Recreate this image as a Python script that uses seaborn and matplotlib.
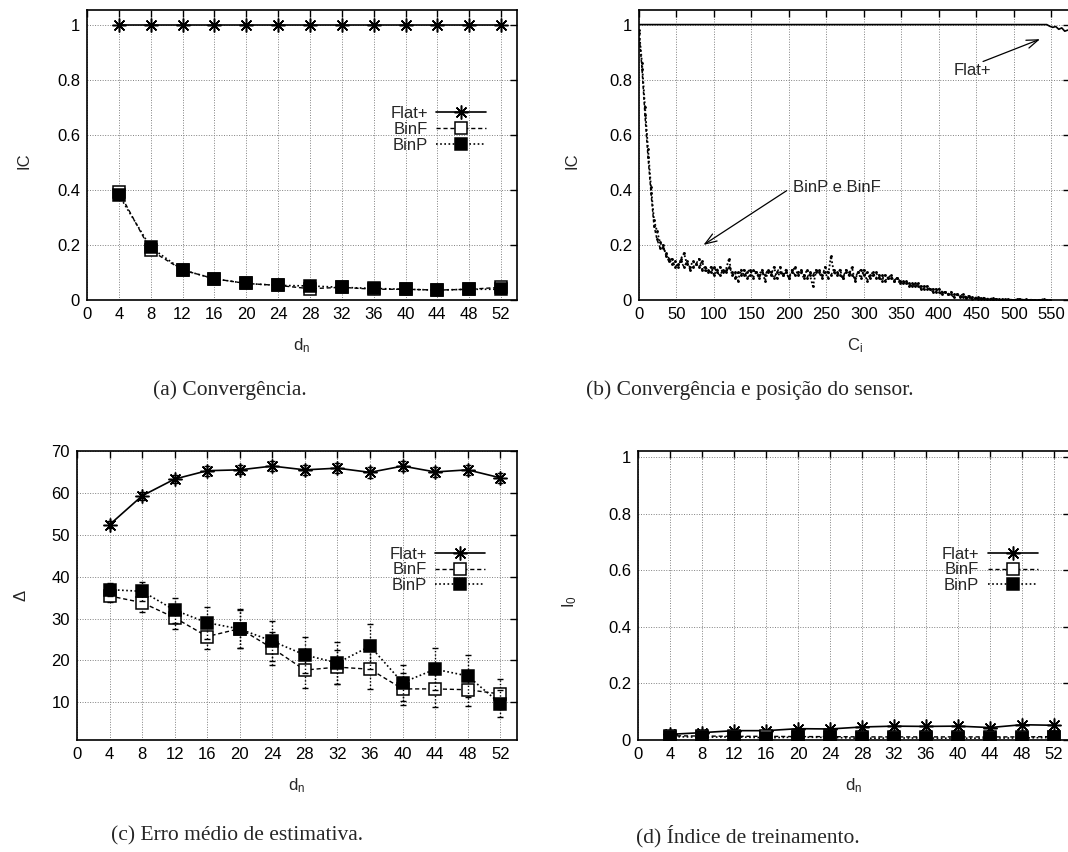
import numpy as np
import pandas as pd
import matplotlib
matplotlib.use("Agg")
import matplotlib.pyplot as plt
import seaborn as sns
from matplotlib.ticker import MultipleLocator, FormatStrFormatter

sns.set_theme(style="white")
plt.rcParams["font.family"] = ["Liberation Sans", "DejaVu Sans"]
plt.rcParams["mathtext.default"] = "regular"

# ---------------- data ----------------
dn = [4, 8, 12, 16, 20, 24, 28, 32, 36, 40, 44, 48, 52]

# (a) convergence index IC versus d_n
ic_flat = [1.0, 1.0, 1.0, 1.0, 1.0, 1.0, 1.0, 1.0, 1.0, 1.0, 1.0, 1.0, 1.0]
ic_binf = [0.393, 0.180, 0.109, 0.077, 0.060, 0.053, 0.041, 0.046, 0.039, 0.039, 0.036, 0.039, 0.046]
ic_binp = [0.381, 0.191, 0.109, 0.077, 0.060, 0.053, 0.051, 0.046, 0.042, 0.039, 0.036, 0.039, 0.039]

# (b) IC along the sensor positions C_i (sampled every 4 positions)
ci_step = 4
ci_binp = [0.98, 0.86, 0.70, 0.55, 0.41, 0.29, 0.25, 0.21, 0.19, 0.17, 0.15, 0.13, 0.14, 0.12,
           0.15, 0.17, 0.13, 0.12, 0.14, 0.13, 0.12, 0.14, 0.11, 0.10, 0.12, 0.09, 0.11, 0.12,
           0.10, 0.11, 0.15, 0.09, 0.10, 0.07, 0.11, 0.09, 0.10, 0.11, 0.08, 0.10, 0.09, 0.11,
           0.07, 0.10, 0.09, 0.12, 0.08, 0.10, 0.09, 0.11, 0.08, 0.10, 0.12, 0.09, 0.10, 0.08,
           0.11, 0.09, 0.05, 0.10, 0.11, 0.09, 0.10, 0.08, 0.16, 0.10, 0.09, 0.11, 0.08, 0.10,
           0.09, 0.12, 0.07, 0.10, 0.08, 0.11, 0.07, 0.09, 0.10, 0.08, 0.09, 0.07, 0.09, 0.08,
           0.08, 0.07, 0.08, 0.06, 0.07, 0.06, 0.06, 0.05, 0.06, 0.05, 0.05, 0.04, 0.05, 0.04,
           0.04, 0.03, 0.04, 0.03, 0.03, 0.02, 0.03, 0.02, 0.02, 0.015, 0.02, 0.01, 0.015, 0.01,
           0.008, 0.01, 0.006, 0.008, 0.005, 0.004, 0.006, 0.003, 0.002, 0.003, 0.001, 0.002,
           0.001, 0.0, 0.002, 0.004, 0.001, 0.0, 0.0, 0.001, 0.0, 0.0, 0.001, 0.003, 0.0, 0.0]
ci_binf = [0.97, 0.84, 0.67, 0.52, 0.39, 0.27, 0.22, 0.19, 0.20, 0.16, 0.14, 0.15, 0.12, 0.13,
           0.14, 0.12, 0.14, 0.11, 0.12, 0.13, 0.15, 0.11, 0.12, 0.11, 0.10, 0.12, 0.10, 0.09,
           0.11, 0.10, 0.12, 0.10, 0.08, 0.10, 0.09, 0.11, 0.08, 0.09, 0.11, 0.10, 0.08, 0.10,
           0.09, 0.11, 0.10, 0.08, 0.10, 0.12, 0.09, 0.10, 0.08, 0.11, 0.09, 0.10, 0.11, 0.09,
           0.08, 0.10, 0.09, 0.11, 0.10, 0.08, 0.12, 0.10, 0.09, 0.11, 0.10, 0.09, 0.08, 0.11,
           0.10, 0.09, 0.08, 0.10, 0.11, 0.09, 0.10, 0.08, 0.09, 0.10, 0.08, 0.09, 0.07, 0.08,
           0.09, 0.07, 0.08, 0.07, 0.06, 0.07, 0.05, 0.06, 0.05, 0.06, 0.04, 0.05, 0.04, 0.04,
           0.03, 0.04, 0.03, 0.02, 0.03, 0.02, 0.02, 0.01, 0.02, 0.01, 0.012, 0.008, 0.01, 0.005,
           0.008, 0.004, 0.005, 0.003, 0.002, 0.004, 0.001, 0.003, 0.001, 0.0, 0.002, 0.001,
           0.0, 0.0, 0.001, 0.0, 0.0, 0.002, 0.0, 0.0, 0.0, 0.001, 0.0, 0.0, 0.0, 0.0]
ci_flat_x = [0, 544, 548, 552, 556, 560, 564, 568, 572]
ci_flat = [1.0, 1.0, 0.994, 0.99, 0.993, 0.983, 0.988, 0.976, 0.98]

# (c) mean estimation error and its spread
err_flat = [52.4, 59.3, 63.3, 65.3, 65.5, 66.4, 65.5, 65.9, 64.9, 66.4, 65.0, 65.5, 63.6]
err_flat_sd = [0.8, 1.0, 1.0, 1.2, 1.1, 1.2, 1.2, 1.2, 1.3, 1.2, 1.2, 1.2, 1.2]
err_binf = [35.4, 33.8, 30.2, 25.7, 27.6, 22.9, 17.7, 18.4, 17.9, 13.2, 13.2, 13.0, 12.0]
err_binf_sd = [1.5, 2.2, 2.7, 3.0, 4.6, 4.0, 4.2, 4.1, 4.7, 3.8, 4.4, 3.9, 3.5]
err_binp = [36.9, 36.5, 32.0, 29.0, 27.5, 24.6, 21.3, 19.4, 23.4, 14.7, 17.9, 16.3, 9.7]
err_binp_sd = [1.6, 2.2, 3.0, 3.8, 4.5, 4.8, 4.2, 5.1, 5.4, 4.3, 5.0, 5.1, 3.3]

# (d) training index I_0
i0_flat = [0.020, 0.026, 0.033, 0.033, 0.040, 0.039, 0.046, 0.049, 0.048, 0.049, 0.044, 0.054, 0.052]
i0_binf = [0.015, 0.014, 0.013, 0.013, 0.012, 0.012, 0.011, 0.011, 0.011, 0.011, 0.011, 0.011, 0.012]
i0_binp = [0.012, 0.010, 0.011, 0.008, 0.010, 0.009, 0.006, 0.007, 0.007, 0.006, 0.007, 0.007, 0.009]

captions = ["(a) Convergência.", "(b) Convergência e posição do sensor.",
            "(c) Erro médio de estimativa.", "(d) Índice de treinamento."]

# ---------------- layout ----------------
W, H = 1068, 852
fig = plt.figure(figsize=(W / 100, H / 100), dpi=100)
fig.patch.set_facecolor("white")


def rect(l, r, t, b):
    return [l / W, 1 - b / H, (r - l) / W, (b - t) / H]


ax_a = fig.add_axes(rect(87, 517, 10, 300))
ax_b = fig.add_axes(rect(639, 1070, 10, 300))
ax_c = fig.add_axes(rect(77, 516.5, 451, 740))
ax_d = fig.add_axes(rect(638, 1070, 451, 740))

TICK_FS = 12
LEG_FS = 12
GRID = dict(color="#808080", linestyle=(0, (1, 1.6)), linewidth=0.7)


def frame(ax):
    ax.set_facecolor("white")
    for s in ax.spines.values():
        s.set_visible(True)
        s.set_color("black")
        s.set_linewidth(1.2)
    ax.tick_params(direction="in", length=5, width=1, top=True, right=True,
                   labelsize=TICK_FS, pad=5, colors="black")
    ax.grid(True, **GRID)
    ax.set_axisbelow(True)


def legend(ax, anchor):
    lg = ax.legend(loc="upper right", bbox_to_anchor=anchor, frameon=False,
                   markerfirst=False, handlelength=3.0, handletextpad=0.5,
                   labelspacing=0.05, borderpad=0, borderaxespad=0,
                   fontsize=LEG_FS, numpoints=1)
    return lg


star = (8, 2, 0)
flat_kw = dict(color="black", linestyle="-", linewidth=1.2, marker=star, markersize=10,
               markeredgecolor="black", markeredgewidth=1.1)
binf_kw = dict(color="black", linestyle=(0, (3, 2)), linewidth=1.0, marker="s", markersize=9,
               markerfacecolor="white", markeredgecolor="black", markeredgewidth=1.1)
binp_kw = dict(color="black", linestyle=(0, (1, 1.5)), linewidth=1.2, marker="s", markersize=9,
               markerfacecolor="black", markeredgecolor="black", markeredgewidth=1.1)

# ---------------- (a) ----------------
df_a = pd.DataFrame({"dn": dn, "Flat+": ic_flat, "BinF": ic_binf, "BinP": ic_binp})
sns.lineplot(data=df_a, x="dn", y="Flat+", ax=ax_a, label="Flat+", **flat_kw)
sns.lineplot(data=df_a, x="dn", y="BinF", ax=ax_a, label="BinF", **binf_kw)
sns.lineplot(data=df_a, x="dn", y="BinP", ax=ax_a, label="BinP", **binp_kw)
ax_a.set_xlim(0, 54)
ax_a.set_ylim(0, 1.053)
ax_a.yaxis.set_major_locator(MultipleLocator(0.2))
ax_a.xaxis.set_major_locator(MultipleLocator(4))
frame(ax_a)
legend(ax_a, (0.929, 0.668))

# ---------------- (b) ----------------
x_binp = np.arange(len(ci_binp)) * ci_step
x_binf = np.arange(len(ci_binf)) * ci_step
df_bp = pd.DataFrame({"ci": x_binp, "ic": ci_binp})
df_bf = pd.DataFrame({"ci": x_binf, "ic": ci_binf})
df_bflat = pd.DataFrame({"ci": ci_flat_x, "ic": ci_flat})
sns.lineplot(data=df_bflat, x="ci", y="ic", ax=ax_b, color="black", linewidth=1.2)
sns.lineplot(data=df_bf, x="ci", y="ic", ax=ax_b, color="black", linewidth=1.1,
             linestyle=(0, (2, 1.5)), marker=".", markersize=2.5, markeredgecolor="black")
sns.lineplot(data=df_bp, x="ci", y="ic", ax=ax_b, color="black", linewidth=1.3,
             linestyle=(0, (1, 1.2)), marker=".", markersize=2.5, markeredgecolor="black")
ax_b.set_xlim(0, 575)
ax_b.set_ylim(0, 1.053)
ax_b.yaxis.set_major_locator(MultipleLocator(0.2))
ax_b.xaxis.set_major_locator(MultipleLocator(50))
frame(ax_b)
arrow = dict(arrowstyle="->,head_length=0.7,head_width=0.25", color="black", lw=0.9,
             shrinkA=0, shrinkB=0)
ax_b.annotate("", xy=(535, 0.947), xytext=(459, 0.866), arrowprops=arrow)
ax_b.text(420, 0.832, "Flat+", fontsize=LEG_FS, va="center", ha="left")
ax_b.annotate("", xy=(86, 0.20), xytext=(197, 0.397), arrowprops=arrow)
ax_b.text(206, 0.407, "BinP e BinF", fontsize=LEG_FS, va="center", ha="left")

# ---------------- (c) ----------------
df_c = pd.DataFrame({"dn": dn, "Flat+": err_flat, "BinF": err_binf, "BinP": err_binp})
for col, sd, kw in [("Flat+", err_flat_sd, flat_kw), ("BinF", err_binf_sd, binf_kw),
                    ("BinP", err_binp_sd, binp_kw)]:
    eb = ax_c.errorbar(df_c["dn"], df_c[col], yerr=sd, fmt="none", ecolor="black",
                       elinewidth=1.0, capsize=2.5, capthick=1.0)
    if col != "Flat+":
        eb[2][0].set_linestyle((0, (1, 1.5)))
    sns.lineplot(data=df_c, x="dn", y=col, ax=ax_c, label=col, **kw)
ax_c.set_xlim(0, 54)
ax_c.set_ylim(1, 70)
ax_c.yaxis.set_major_locator(MultipleLocator(10))
ax_c.xaxis.set_major_locator(MultipleLocator(4))
frame(ax_c)
legend(ax_c, (0.929, 0.669))

# ---------------- (d) ----------------
df_d = pd.DataFrame({"dn": dn, "Flat+": i0_flat, "BinF": i0_binf, "BinP": i0_binp})
sns.lineplot(data=df_d, x="dn", y="Flat+", ax=ax_d, label="Flat+", **flat_kw)
sns.lineplot(data=df_d, x="dn", y="BinF", ax=ax_d, label="BinF", **binf_kw)
sns.lineplot(data=df_d, x="dn", y="BinP", ax=ax_d, label="BinP", **binp_kw)
ax_d.set_xlim(0, 54)
ax_d.set_ylim(0, 1.021)
ax_d.yaxis.set_major_locator(MultipleLocator(0.2))
ax_d.xaxis.set_major_locator(MultipleLocator(4))
frame(ax_d)
legend(ax_d, (0.925, 0.669))

# ---------------- labels ----------------
for ax in (ax_a, ax_b, ax_d):
    ax.yaxis.set_major_formatter(FormatStrFormatter("%g"))

ax_a.set_xlabel(r"$\mathregular{d_n}$", fontsize=TICK_FS)
ax_a.set_ylabel("IC", fontsize=TICK_FS)
ax_b.set_xlabel(r"$\mathregular{C_i}$", fontsize=TICK_FS)
ax_b.set_ylabel("IC", fontsize=TICK_FS)
ax_c.set_xlabel(r"$\mathregular{d_n}$", fontsize=TICK_FS)
ax_c.set_ylabel("Δ", fontsize=TICK_FS)
ax_d.set_xlabel(r"$\mathregular{d_n}$", fontsize=TICK_FS)
ax_d.set_ylabel(r"$\mathregular{I_0}$", fontsize=TICK_FS)

ax_a.yaxis.set_label_coords(-0.13, 0.48)
ax_b.yaxis.set_label_coords(-0.139, 0.48)
ax_c.yaxis.set_label_coords(-0.111, 0.5)
ax_d.yaxis.set_label_coords(-0.137, 0.48)
for ax in (ax_a, ax_b, ax_c, ax_d):
    ax.xaxis.set_label_coords(0.5, -0.124)

cap_kw = dict(fontsize=15.5, family=["Liberation Serif", "DejaVu Serif"], ha="center",
              va="center")
fig.text(230 / W, 1 - 390 / H, captions[0], **cap_kw)
fig.text(750 / W, 1 - 390 / H, captions[1], **cap_kw)
fig.text(237 / W, 1 - 836 / H, captions[2], **cap_kw)
fig.text(748 / W, 1 - 836 / H, captions[3], **cap_kw)

fig.savefig("out.png", dpi=100, facecolor="white")
